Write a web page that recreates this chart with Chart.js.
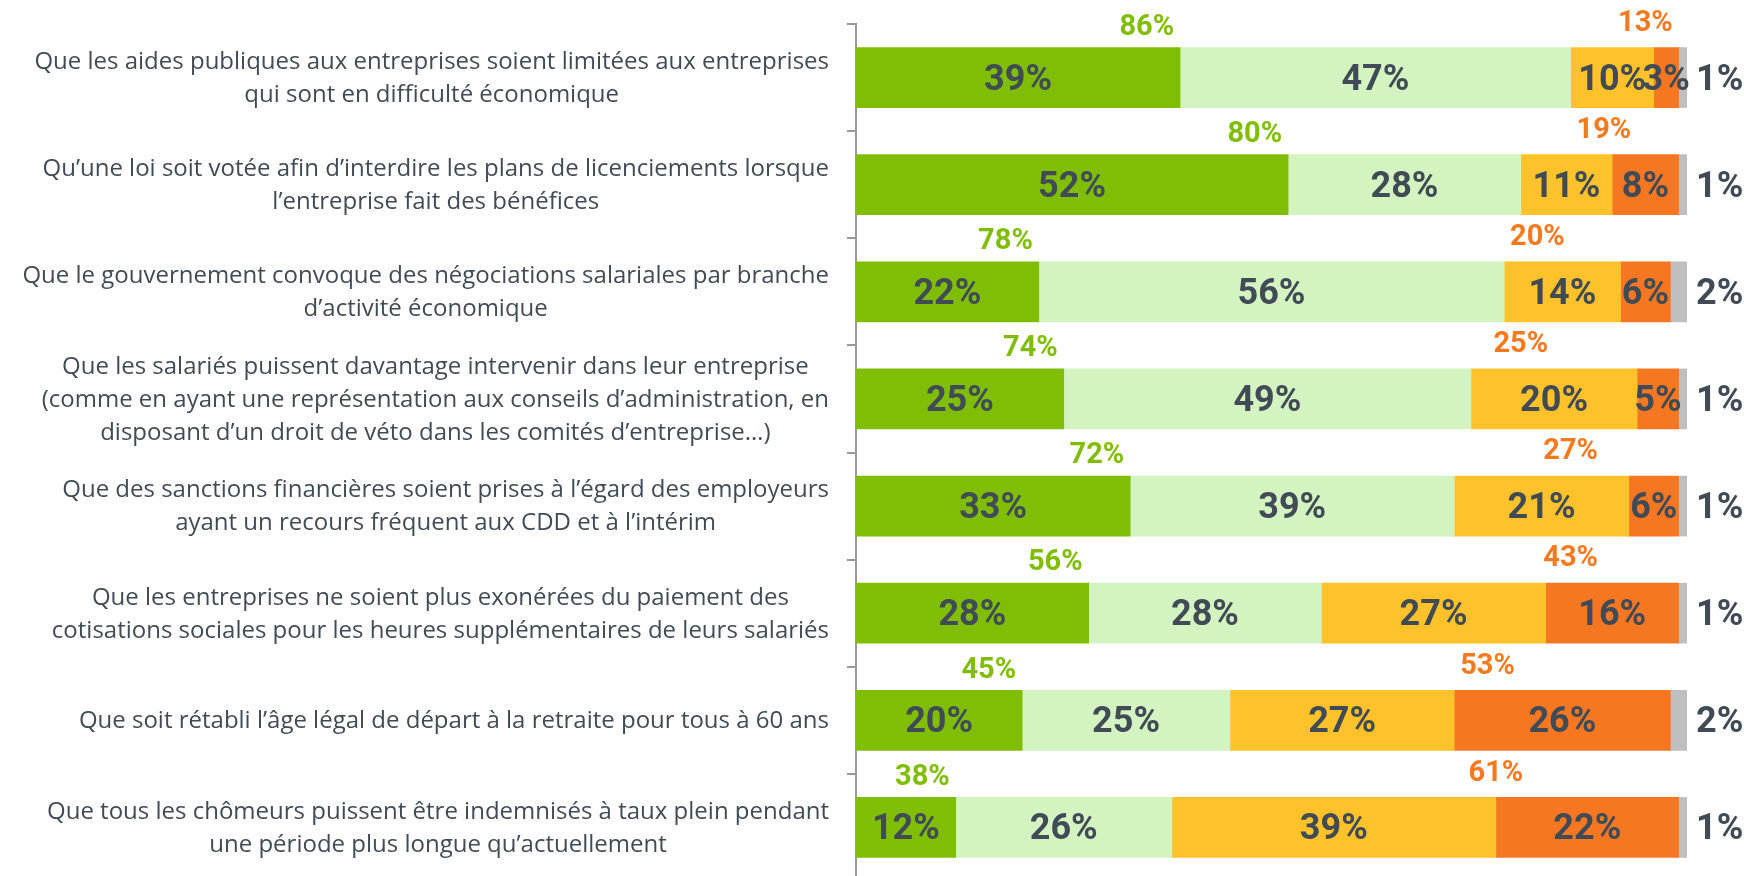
<!DOCTYPE html>
<html>
<head>
<meta charset="utf-8">
<script src="https://cdn.jsdelivr.net/npm/chart.js@4"></script>
<style>
  html, body { margin: 0; padding: 0; background: #fff; overflow: hidden; }
  #wrap { position: relative; width: 1744px; height: 882px; }
</style>
</head>
<body>
<div id="wrap"><canvas id="chart"></canvas></div>
<script>
// ---- data ----
var categories = [
  ["Que les aides publiques aux entreprises soient limitées aux entreprises", "qui sont en difficulté économique"],
  ["Qu’une loi soit votée afin d’interdire les plans de licenciements lorsque", "l’entreprise fait des bénéfices"],
  ["Que le gouvernement convoque des négociations salariales par branche", "d’activité économique"],
  ["Que les salariés puissent davantage intervenir dans leur entreprise", "(comme en ayant une représentation aux conseils d’administration, en", "disposant d’un droit de véto dans les comités d’entreprise…)"],
  ["Que des sanctions financières soient prises à l’égard des employeurs", "ayant un recours fréquent aux CDD et à l’intérim"],
  ["Que les entreprises ne soient plus exonérées du paiement des", "cotisations sociales pour les heures supplémentaires de leurs salariés"],
  ["Que soit rétabli l’âge légal de départ à la retraite pour tous à 60 ans"],
  ["Que tous les chômeurs puissent être indemnisés à taux plein pendant", "une période plus longue qu’actuellement"]
];
var toutAFait  = [39, 52, 22, 25, 33, 28, 20, 12];
var plutot     = [47, 28, 56, 49, 39, 28, 25, 26];
var plutotPas  = [10, 11, 14, 20, 21, 27, 27, 39];
var pasDuTout  = [3, 8, 6, 5, 6, 16, 26, 22];
var nsp        = [1, 1, 2, 1, 1, 1, 2, 1];
var totalPour   = [86, 80, 78, 74, 72, 56, 45, 38];
var totalContre = [13, 19, 20, 25, 27, 43, 53, 61];
// where the "total contre" label sits along the % axis (hand placed in the source)
var contreLabelAt = [95, 90, 82, 80, 86, 86, 76, 77];

var colors = ["#80be06", "#d3f4c1", "#ffc22a", "#f57722", "#bfbfbf"];
var TXT = "#414b56";
var NUM_FONT = "bold 36px 'Liberation Sans Narrow', Roboto, sans-serif";
var TOP_FONT = "bold 29px 'Liberation Sans Narrow', Roboto, sans-serif";
var CAT_FONT = "24px 'Open Sans', sans-serif";

function pct(v) { return v + "%"; }

// category labels: each block right-aligned against the axis, lines centred inside it
var categoryLabels = {
  id: "categoryLabels",
  afterDraw: function (chart) {
    var ctx = chart.ctx, y = chart.scales.y;
    var right = chart.chartArea.left - 27;
    var lh = 33;
    ctx.save();
    ctx.font = CAT_FONT;
    ctx.fillStyle = TXT;
    ctx.textAlign = "center";
    ctx.textBaseline = "middle";
    categories.forEach(function (lines, i) {
      var w = 0;
      lines.forEach(function (l) { w = Math.max(w, ctx.measureText(l).width); });
      var cx = right - w / 2;
      var cy = y.getPixelForValue(i) + 1;
      var y0 = cy - (lines.length - 1) * lh / 2;
      lines.forEach(function (l, k) { ctx.fillText(l, cx, y0 + k * lh); });
    });
    ctx.restore();
  }
};

// values inside segments, nsp outside, totals above each bar
var valueLabels = {
  id: "valueLabels",
  afterDatasetsDraw: function (chart) {
    var ctx = chart.ctx, xs = chart.scales.x;
    ctx.save();
    ctx.textBaseline = "middle";
    ctx.font = NUM_FONT;
    ctx.fillStyle = TXT;
    chart.data.datasets.forEach(function (ds, d) {
      var meta = chart.getDatasetMeta(d);
      meta.data.forEach(function (bar, i) {
        if (d < 4) {
          ctx.textAlign = "center";
          ctx.fillText(pct(ds.data[i]), (bar.x + bar.base) / 2, bar.y + 3);
        } else {
          ctx.textAlign = "left";
          ctx.fillText(pct(ds.data[i]), bar.x + 9, bar.y + 3);
        }
      });
    });
    var first = chart.getDatasetMeta(0);
    ctx.font = TOP_FONT;
    first.data.forEach(function (bar, i) {
      var top = bar.y - bar.height / 2;
      ctx.textAlign = "right";
      ctx.fillStyle = "#80be06";
      ctx.fillText(pct(totalPour[i]), xs.getPixelForValue(toutAFait[i]) - 6, top - 20);
      ctx.textAlign = "center";
      ctx.fillStyle = "#f47a20";
      ctx.fillText(pct(totalContre[i]), xs.getPixelForValue(contreLabelAt[i]), top - 24);
    });
    ctx.restore();
  }
};

var series = [toutAFait, plutot, plutotPas, pasDuTout, nsp];
var names = ["Tout à fait", "Plutôt", "Plutôt pas", "Pas du tout", "NSP"];

new Chart(document.getElementById("chart"), {
  type: "bar",
  data: {
    labels: categories,
    datasets: series.map(function (s, k) {
      return {
        label: names[k],
        data: s,
        backgroundColor: colors[k],
        borderWidth: 0,
        barThickness: 60
      };
    })
  },
  options: {
    indexAxis: "y",
    responsive: true,
    maintainAspectRatio: false,
    animation: false,
    layout: { padding: { top: 24, right: 57, bottom: 1, left: 0 } },
    plugins: { legend: { display: false }, tooltip: { enabled: false } },
    scales: {
      x: { stacked: true, min: 0, max: 100, display: false },
      y: {
        stacked: true,
        ticks: { display: false },
        grid: { offset: true, drawOnChartArea: false, tickLength: 9, color: "#999", lineWidth: 2 },
        border: { color: "#999", width: 2 },
        afterFit: function (s) { s.width = 856; }
      }
    }
  },
  plugins: [categoryLabels, valueLabels]
});
</script>
</body>
</html>
